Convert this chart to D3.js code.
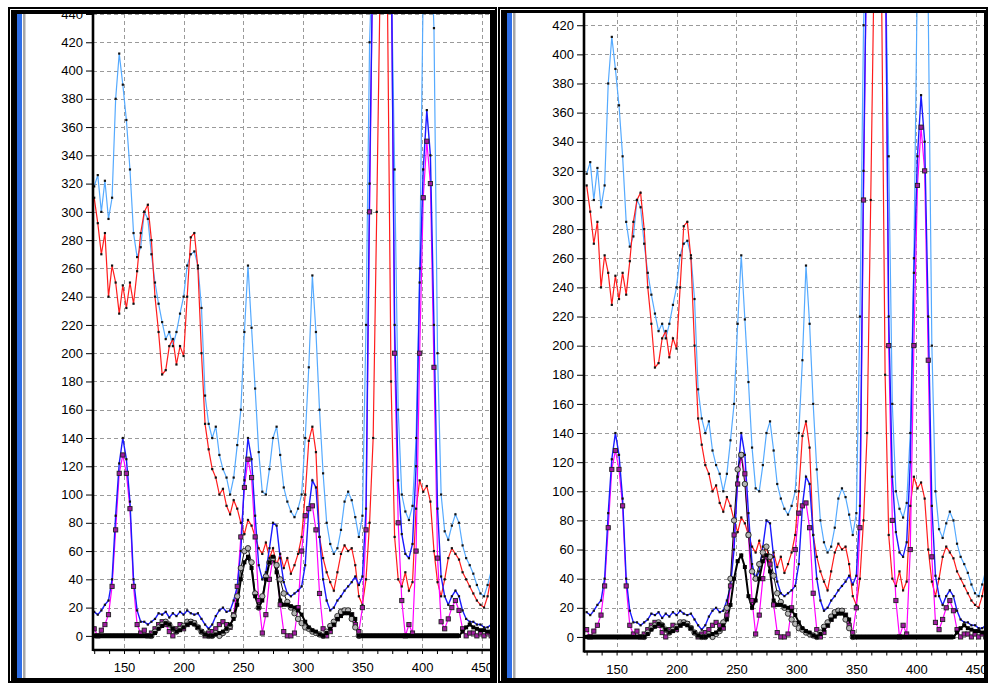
<!DOCTYPE html>
<html>
<head>
<meta charset="utf-8">
<script src="https://cdn.jsdelivr.net/npm/d3@7/dist/d3.min.js"></script>
<style>
  body { margin: 0; background: #fff; }
  svg { display: block; font-family: "Liberation Sans", Arial, sans-serif; }
</style>
</head>
<body>
<svg id="chart" width="988" height="683"></svg>
<script>
// ---------------------------------------------------------------------
// Data (3 nm steps)
// ---------------------------------------------------------------------
const wavelengths = [
  125, 128, 131, 134, 137, 140, 143, 146, 149, 152,
  155, 158, 161, 164, 167, 170, 173, 176, 179, 182,
  185, 188, 191, 194, 197, 200, 203, 206, 209, 212,
  215, 218, 221, 224, 227, 230, 233, 236, 239, 242,
  245, 248, 251, 254, 257, 260, 263, 266, 269, 272,
  275, 278, 281, 284, 287, 290, 293, 296, 299, 302,
  305, 308, 311, 314, 317, 320, 323, 326, 329, 332,
  335, 338, 341, 344, 347, 350, 353, 356, 359, 362,
  365, 368, 371, 374, 377, 380, 383, 386, 389, 392,
  395, 398, 401, 404, 407, 410, 413, 416, 419, 422,
  425, 428, 431, 434, 437, 440, 443, 446, 449, 452,
  455, 458
];

const lightBlue = [
  318, 326, 300, 322, 295, 310, 380, 412, 390, 365,
  330, 285, 268, 275, 300, 295, 270, 250, 235, 222,
  210, 215, 205, 215, 228, 240, 262, 270, 272, 262,
  232, 170, 150, 140, 148, 128, 118, 112, 100, 112,
  135, 160, 215, 262, 218, 175, 130, 102, 100, 118,
  140, 148, 128, 105, 95, 88, 84, 90, 100, 140,
  190, 255, 215, 160, 115, 80, 65, 58, 62, 75,
  95, 102, 96, 84, 70, 85, 220, 420, 500, 500,
  500, 500, 500, 480, 330, 160, 100, 88, 82, 92,
  140, 260, 460, 500, 500, 430, 200, 100, 74, 68,
  78, 86, 80, 64, 55, 50, 44, 36, 30, 28,
  36, 46
];

const red = [
  310, 292, 270, 285, 240, 262, 250, 228, 248, 232,
  250, 235, 258, 285, 300, 305, 280, 240, 215, 185,
  188, 205, 210, 192, 205, 198, 240, 282, 285, 260,
  200, 150, 132, 118, 112, 100, 104, 92, 86, 96,
  90, 80, 72, 82, 78, 70, 62, 58, 66, 55,
  62, 50, 58, 48, 55, 44, 50, 58, 70, 100,
  138, 148, 130, 70, 55, 45, 38, 32, 45, 58,
  64, 60, 62, 50, 28, 22, 40, 80, 140, 300,
  470, 500, 450, 180, 70, 40, 35, 45, 32, 38,
  90, 110, 102, 106, 95, 60, 38, 28, 40, 55,
  62, 58, 54, 45, 40, 35, 30, 25, 22, 20,
  28, 42
];

const blue = [
  17, 15, 18, 22, 25, 40, 85, 122, 140, 125,
  95, 40, 18, 10, 10, 8, 10, 12, 16, 15,
  17, 13, 16, 14, 17, 15, 18, 16, 15, 16,
  12, 8, 5, 8, 14, 18, 20, 17, 18, 25,
  35, 60, 110, 140, 125, 85, 50, 40, 45, 62,
  80, 78, 55, 38, 30, 28, 30, 32, 35, 50,
  90, 110, 105, 70, 40, 25, 18, 20, 25, 28,
  32, 35, 38, 42, 36, 42, 90, 320, 500, 500,
  500, 500, 500, 500, 220, 110, 72, 58, 55, 65,
  120, 250, 330, 372, 340, 220, 90, 42, 28, 22,
  28, 32, 28, 18, 12, 10, 10, 8, 8, 6,
  6, 8
];

const magenta = [
  5, 0, 4, 8, 15, 35, 75, 115, 128, 115,
  90, 35, 8, 2, 4, 0, 2, 5, 8, 10,
  8, 3, 0, 5, 8, 5, 8, 10, 9, 6,
  3, 0, 2, 3, 5, 8, 10, 8, 6, 15,
  35, 70, 105, 125, 112, 70, 25, 2, 15, 40,
  55, 50, 22, 3, 0, 0, 2, 20, 60, 85,
  90, 92, 75, 30, 5, 0, 3, 8, 12, 16,
  18, 18, 15, 8, 3, 20, 75, 300, 500, 500,
  500, 500, 500, 500, 200, 80, 25, 0, 8, 2,
  60, 200, 310, 350, 320, 190, 55, 10, 5, 12,
  20, 25, 18, 5, 0, 2, 2, 0, 2, 0,
  2, 0
];

const baseline = [
  0, 0, 0, 0, 0, 0, 0, 0, 0, 0,
  0, 0, 0, 0, 0, 0, 0, 2, 5, 7,
  9, 8, 5, 3, 4, 6, 8, 9, 8, 6,
  3, 1, 0, 0, 1, 2, 3, 5, 8, 12,
  22, 40, 52, 56, 48, 28, 20, 25, 40, 52,
  56, 45, 25, 22, 22, 21, 20, 18, 15, 10,
  6, 4, 3, 1, 0, 2, 5, 8, 12, 14,
  16, 16, 15, 12, 0, 0, 0, 0, 0, 0,
  0, 0, 0, 0, 0, 0, 0, 0, 0, 0,
  0, 0, 0, 0, 0, 0, 0, 0, 0, 0,
  0, 0, 0, 3, 6, 8, 6, 5, 4, 4,
  3, 3
];

const N = null;
const circlesLeft = [
  N, N, N, N, N, N, N, N, N, N,
  N, N, N, N, N, N, 0, 3, 6, 8,
  10, 8, 5, 3, 5, 7, 10, 10, 9, 6,
  3, 1, 0, 0, 2, 0, 2, 4, 7, 14,
  28, 48, 60, 62, 52, 30, 20, 28, 42, 52,
  55, 50, 40, 30, 24, 20, 16, 12, 9, 6,
  5, 3, 2, 1, 0, 3, 7, 10, 14, 17,
  18, 18, 12, 6, 0, N, N, N, N, N,
  N, N, N, N, N, N, N, N, N, N,
  N, N, N, N, N, N, N, N, N, N,
  N, N, N, N, N, N, N, N, N, N,
  N, N
];

const circlesRight = [
  N, N, N, N, N, N, N, N, N, N,
  N, N, N, N, N, N, 0, 3, 6, 8,
  10, 8, 5, 3, 5, 7, 10, 10, 9, 6,
  3, 1, 0, 0, 2, 0, 2, 4, 10, 20,
  40, 80, 115, 125, 105, 70, 45, 40, 50, 58,
  62, 55, 42, 30, 24, 20, 16, 12, 9, 6,
  5, 3, 2, 1, 0, 3, 7, 10, 14, 17,
  18, 18, 12, 6, 0, N, N, N, N, N,
  N, N, N, N, N, N, N, N, N, N,
  N, N, N, N, N, N, N, N, N, N,
  N, N, N, N, N, N, N, N, N, N,
  N, N
];

const yTickValues = d3.range(0, 441, 20);
const xLabelValues = [150, 200, 250, 300, 350, 400, 450];
const xMinorTicks = d3.range(125, 460, 12.5);

// ---------------------------------------------------------------------
// Panels
// ---------------------------------------------------------------------
const panels = [
  { left: 93, right: 490, top: 14, bottom: 650, xDomain: [124, 457], yDomain: [-10, 440], circles: circlesLeft },
  { left: 584, right: 984, top: 13, bottom: 651.5, xDomain: [122.8, 456.5], yDomain: [-10, 428.4], circles: circlesRight }
];

const svg = d3.select('#chart');

panels.forEach((p, i) => {
  const x = d3.scaleLinear().domain(p.xDomain).range([p.left, p.right]);
  const y = d3.scaleLinear().domain(p.yDomain).range([p.bottom, p.top]);
  const ticks = yTickValues.filter(v => v <= p.yDomain[1]);
  const g = svg.append('g');

  const clipId = 'clip' + i;
  svg.append('clipPath').attr('id', clipId)
    .append('rect')
    .attr('x', p.left).attr('y', p.top)
    .attr('width', p.right - p.left).attr('height', p.bottom - p.top);

  // grid
  const grid = g.append('g').attr('stroke', '#9a9a9a').attr('stroke-dasharray', '4,3').attr('stroke-width', 1);
  grid.selectAll('line.h').data(ticks).join('line')
    .attr('x1', p.left).attr('x2', p.right)
    .attr('y1', d => Math.round(y(d)) + 0.5).attr('y2', d => Math.round(y(d)) + 0.5);
  grid.selectAll('line.v').data(xLabelValues).join('line')
    .attr('x1', d => Math.round(x(d)) + 0.5).attr('x2', d => Math.round(x(d)) + 0.5)
    .attr('y1', p.top).attr('y2', p.bottom);

  // axes
  const yAxis = d3.axisLeft(y).tickValues(ticks).tickSize(7).tickPadding(3);
  const yg = g.append('g').attr('transform', `translate(${p.left},0)`).call(yAxis);
  yg.select('.domain').remove();
  yg.selectAll('text').attr('font-size', 13).attr('font-family', '"Liberation Sans", Arial, sans-serif').attr('fill', '#000');

  const xAxis = d3.axisBottom(x).tickValues(xMinorTicks).tickSize(4).tickPadding(9)
    .tickFormat(d => (d % 50 === 0 ? d : ''));
  const xg = g.append('g').attr('transform', `translate(0,${p.bottom})`).call(xAxis);
  xg.select('.domain').remove();
  xg.selectAll('text').attr('font-size', 13).attr('font-family', '"Liberation Sans", Arial, sans-serif').attr('fill', '#000');

  // series
  const plot = g.append('g').attr('clip-path', `url(#${clipId})`);
  const pts = vals => wavelengths.map((w, k) => ({ w, v: vals[k] })).filter(d => d.v !== null);
  const line = d3.line().x(d => x(d.w)).y(d => y(d.v));

  const series = [
    { vals: lightBlue, color: '#55aaff', width: 1.2 },
    { vals: red, color: '#ff1c1c', width: 1.2 },
    { vals: magenta, color: '#ff00ff', width: 1.2 },
    { vals: blue, color: '#1a1aff', width: 1.4 },
    { vals: p.circles, color: '#111', width: 1 },
    { vals: baseline, color: '#000', width: 2 }
  ];
  series.forEach(s => {
    plot.append('path').datum(pts(s.vals))
      .attr('fill', 'none').attr('stroke', s.color).attr('stroke-width', s.width)
      .attr('d', line);
  });

  // heavy band where the black series sits on zero
  const zeroLine = d3.line().defined(d => d.v === 0).x(d => x(d.w)).y(d => y(d.v));
  plot.append('path').datum(pts(baseline))
    .attr('fill', 'none').attr('stroke', '#000').attr('stroke-width', 5)
    .attr('d', zeroLine);

  // small black dots on the dense series
  [lightBlue, red, blue].forEach(vals => {
    plot.append('g').selectAll('rect').data(pts(vals)).join('rect')
      .attr('x', d => x(d.w) - 1.1).attr('y', d => y(d.v) - 1.1)
      .attr('width', 2.2).attr('height', 2.2).attr('fill', '#111');
  });

  // magenta squares
  plot.append('g').selectAll('rect').data(pts(magenta)).join('rect')
    .attr('x', d => x(d.w) - 2.1).attr('y', d => y(d.v) - 2.1)
    .attr('width', 4.2).attr('height', 4.2)
    .attr('fill', '#a01ca0').attr('stroke', '#222').attr('stroke-width', 0.9);

  // open grey circles
  plot.append('g').selectAll('circle').data(pts(p.circles)).join('circle')
    .attr('cx', d => x(d.w)).attr('cy', d => y(d.v)).attr('r', 2.7)
    .attr('fill', '#b5b5b5').attr('stroke', '#222').attr('stroke-width', 0.9);

  // black squares
  plot.append('g').selectAll('rect').data(pts(baseline)).join('rect')
    .attr('x', d => x(d.w) - 2).attr('y', d => y(d.v) - 2)
    .attr('width', 4).attr('height', 4).attr('fill', '#000');

  // axis lines
  g.append('line').attr('x1', p.left).attr('x2', p.left).attr('y1', p.top).attr('y2', p.bottom + 1)
    .attr('stroke', '#000').attr('stroke-width', 2.6);
  g.append('line').attr('x1', p.left).attr('x2', p.right).attr('y1', p.bottom).attr('y2', p.bottom)
    .attr('stroke', '#000').attr('stroke-width', 2.4);
});

// ---------------------------------------------------------------------
// Window frames
// ---------------------------------------------------------------------
const frames = [
  { x0: 8, x1: 497, leftW: 9, rightW: 7, top: 7, topH: 7 },
  { x0: 498, x1: 988, leftW: 9, rightW: 4, top: 7, topH: 6 }
];
frames.forEach(f => {
  const fg = svg.append('g');
  fg.append('rect').attr('x', f.x0).attr('y', f.top).attr('width', f.x1 - f.x0).attr('height', f.topH).attr('fill', '#000');
  fg.append('rect').attr('x', f.x0).attr('y', 678).attr('width', f.x1 - f.x0).attr('height', 5).attr('fill', '#000');
  fg.append('rect').attr('x', f.x0).attr('y', f.top).attr('width', f.leftW).attr('height', 683 - f.top).attr('fill', '#000');
  fg.append('rect').attr('x', f.x1 - f.rightW).attr('y', f.top).attr('width', f.rightW).attr('height', 683 - f.top).attr('fill', '#000');
  // double-line highlight
  fg.append('line').attr('x1', f.x0 + 2.5).attr('x2', f.x0 + 2.5).attr('y1', f.top + 2).attr('y2', 681)
    .attr('stroke', '#fff').attr('stroke-width', 1);
  fg.append('line').attr('x1', f.x0 + 2).attr('x2', f.x1 - 2).attr('y1', f.top + 2.5).attr('y2', f.top + 2.5)
    .attr('stroke', '#fff').attr('stroke-width', 1);
  // blue and grey stripes
  const sx = f.x0 + f.leftW;
  fg.append('rect').attr('x', sx).attr('y', f.top + f.topH).attr('width', 5).attr('height', 678 - f.top - f.topH).attr('fill', '#2f6fe8');
  fg.append('rect').attr('x', sx + 6).attr('y', f.top + f.topH).attr('width', 2.5).attr('height', 678 - f.top - f.topH).attr('fill', '#a8a8a8');
});
</script>
</body>
</html>
